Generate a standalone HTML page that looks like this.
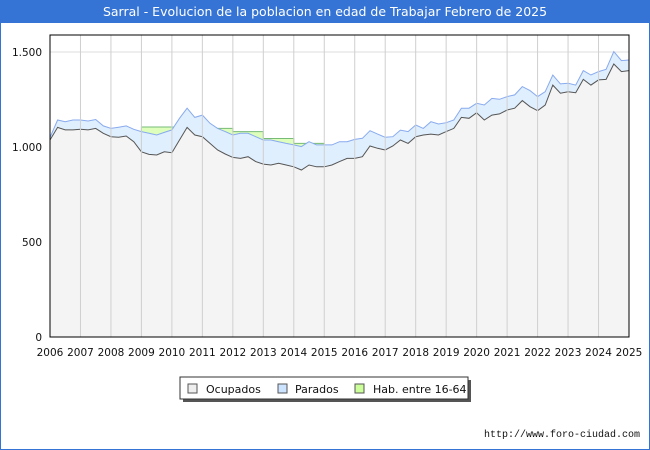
<!DOCTYPE html>
<html><head><meta charset="utf-8"><style>
body{margin:0;background:#fff;}
#wrap{position:relative;width:650px;height:450px;overflow:hidden;font-family:"DejaVu Sans","Liberation Sans",sans-serif;}
</style></head><body>
<div id="wrap">
<svg id="svg" width="650" height="450" xmlns="http://www.w3.org/2000/svg">
<rect x="0.5" y="0.5" width="649" height="449" fill="#fff" stroke="#3574d4" stroke-width="1"/>
<rect x="0" y="0" width="650" height="23" fill="#3574d4"/>
<text x="325" y="16" text-anchor="middle" font-size="12.5" fill="#fff">Sarral - Evolucion de la poblacion en edad de Trabajar Febrero de 2025</text>
<g id="grid"></g>
<g id="series"></g>
<g id="axes"></g>
<g>
<rect x="183" y="380" width="288" height="22" fill="#555"/>
<rect x="180" y="377" width="288" height="22" fill="#fff" stroke="#333" stroke-width="1"/>
<rect x="188" y="384" width="9" height="9" fill="#eee" stroke="#555"/>
<text x="206" y="393" font-size="11" fill="#111">Ocupados</text>
<rect x="278" y="384" width="9" height="9" fill="#cce4ff" stroke="#555"/>
<text x="295" y="393" font-size="11" fill="#111">Parados</text>
<rect x="355" y="384" width="9" height="9" fill="#ccff99" stroke="#555"/>
<text x="373" y="393" font-size="11" fill="#111">Hab. entre 16-64</text>
</g>
<text x="640" y="437" text-anchor="end" font-size="10" fill="#111" font-family="Liberation Mono, monospace">http://www.foro-ciudad.com</text>
</svg>
</div>
<script>
const years=[2006,2007,2008,2009,2010,2011,2012,2013,2014,2015,2016,2017,2018,2019,2020,2021,2022,2023,2024,2025];
const yTicks=[0,500,1000,1500];
const yTickLabels=["0","500","1.000","1.500"];
const startYear=2006, step=0.25;
const parados=[1050,1142,1133,1142,1142,1137,1145,1111,1098,1104,1111,1093,1081,1072,1063,1077,1090,1151,1204,1156,1168,1125,1098,1081,1063,1072,1072,1054,1037,1037,1028,1019,1011,1002,1028,1011,1011,1011,1028,1028,1040,1046,1086,1068,1051,1054,1089,1081,1116,1098,1133,1121,1128,1142,1204,1204,1230,1221,1256,1251,1265,1274,1318,1297,1265,1291,1379,1332,1335,1326,1402,1379,1397,1409,1502,1455,1458];
const ocupados=[1037,1103,1090,1090,1093,1090,1098,1072,1054,1051,1058,1028,975,961,958,975,970,1037,1103,1063,1054,1019,984,963,945,940,949,923,910,905,914,905,896,879,905,896,896,905,923,940,940,949,1005,993,984,1005,1037,1019,1054,1063,1068,1063,1081,1098,1156,1151,1180,1142,1168,1174,1195,1204,1244,1212,1191,1221,1326,1283,1291,1286,1356,1326,1353,1356,1437,1397,1402];
const habYears=[2006,2007,2008,2009,2010,2011,2012,2013,2014,2015,2016,2017,2018,2019,2020,2021,2022,2023,2024,2025];
const hab=[1000,1000,1000,1105,1105,1098,1081,1045,1019,1010,1000,1030,1060,1100,1150,1180,1220,1250,1300,1350];
const X0=50,X1=629,Y0=337,Y1=52;
const xs=t=>X0+(t-2006)/(2025-2006)*(X1-X0);
const ys=v=>Y0-v/1500*(Y0-Y1);
const NS="http://www.w3.org/2000/svg";
function mk(tag,attrs,parent){const e=document.createElementNS(NS,tag);for(const k in attrs)e.setAttribute(k,attrs[k]);parent.appendChild(e);return e;}
const grid=document.getElementById('grid'),ser=document.getElementById('series'),ax=document.getElementById('axes');
mk('rect',{x:X0,y:35,width:X1-X0,height:Y0-35,fill:'#fff'},grid);
yTicks.forEach((v,i)=>{
 if(v>0){const l=mk('line',{x1:X0,x2:X1,y1:ys(v),y2:ys(v),stroke:'#ddd'},grid);
 
 }
 const t=mk('text',{x:42,y:ys(v)+4,'text-anchor':'end','font-size':10.5,fill:'#111'},ax);
 t.textContent=yTickLabels[i];
 
 
});
const tt=i=>startYear+i*step;
let hp='M'+xs(habYears[0])+','+Y0;
habYears.forEach((yr,i)=>{const xe=i<habYears.length-1?habYears[i+1]:2025;hp+=' L'+xs(yr)+','+ys(hab[i])+' L'+xs(xe)+','+ys(hab[i]);});
const hf=mk('path',{d:hp+' L'+xs(2025)+','+Y0+' Z',fill:'#ddffbb',stroke:'#77bb77','stroke-width':1},ser);


function area(arr,fill,stroke,name){
 let d='M'+xs(tt(0))+','+Y0;
 arr.forEach((v,i)=>{d+=' L'+xs(tt(i)).toFixed(1)+','+ys(v).toFixed(1);});
 d+=' L'+xs(tt(arr.length-1))+','+Y0+' Z';
 const p=mk('path',{d:d,fill:fill,stroke:'none'},ser);
 
 
 let l='';arr.forEach((v,i)=>{l+=(i?' L':'M')+xs(tt(i)).toFixed(1)+','+ys(v).toFixed(1);});
 const q=mk('path',{d:l,fill:'none',stroke:stroke,'stroke-width':1},ser);
 
 
}
area(parados,'#e0effd','#88aaee','parados');
area(ocupados,'#f4f4f4','#555','ocupados');
years.forEach(yr=>{
 const x=xs(yr);
 if(yr>2006&&yr<2025){const l=mk('line',{x1:x,x2:x,y1:35,y2:Y0,stroke:'#cfcfcf'},ax);
 
 }
 const t=mk('text',{x:x,y:356,'text-anchor':'middle','font-size':10.5,fill:'#111'},ax);
 t.textContent=yr;
 
 
});
const b=mk('rect',{x:X0,y:35,width:X1-X0,height:Y0-35,fill:'none',stroke:'#000','stroke-width':1},ax);


</script>
</body></html>
